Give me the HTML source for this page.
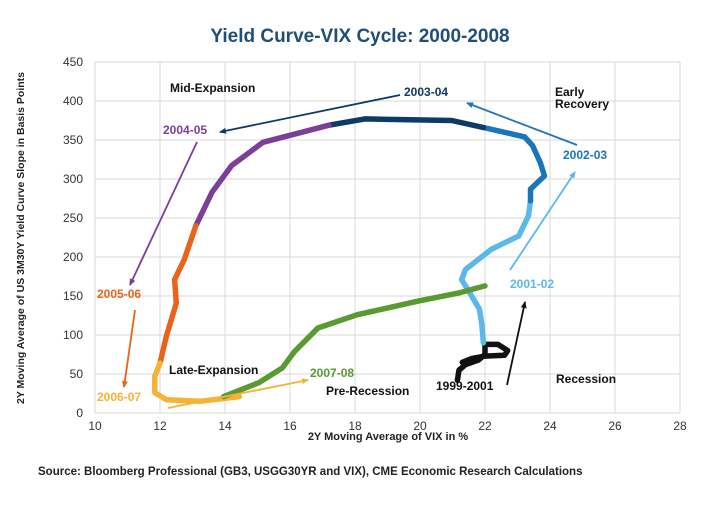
<!DOCTYPE html>
<html><head><meta charset="utf-8"><style>
body{margin:0;background:#fff;}
svg text{font-family:"Liberation Sans",sans-serif;}
</style></head><body>
<svg id="chart" width="720" height="500" viewBox="0 0 720 500">
<text x="360" y="42" text-anchor="middle" font-size="19" font-weight="bold" fill="#1f4e79">Yield Curve-VIX Cycle: 2000-2008</text>
<g id="grid"></g>
<g id="series"></g>
<g id="ann"></g>
<text x="0" y="0" transform="translate(24,238) rotate(-90)" text-anchor="middle" font-size="10.5" font-weight="bold" fill="#222">2Y Moving Average of US 3M30Y Yield Curve Slope in Basis Points</text>
<text x="388" y="440" text-anchor="middle" font-size="11" font-weight="bold" fill="#222">2Y Moving Average of VIX in %</text>
<text x="38" y="475" font-size="11.5" font-weight="bold" fill="#222">Source: Bloomberg Professional (GB3, USGG30YR and VIX), CME Economic Research Calculations</text>
</svg>
<script>
const xTicks=[10,12,14,16,18,20,22,24,26,28];
const yTicks=[0,50,100,150,200,250,300,350,400,450];
const segNames=['1999-2001','2001-02','2002-03','2003-04','2004-05','2005-06','2006-07','2007-08'];
const segColors=['#111','#5bb8ea','#1a75bb','#0d3a66','#7b3f99','#e8641b','#f5b335','#5a9a32'];
const vix1999=[21.15,21.2,21.4,21.8,22.0,22.0,22.4,22.7,22.6,22.0,21.6,21.3];
const slope1999=[42,55,62,68,75,88,88,80,74,73,70,65];
const vix2001=[21.95,21.9,21.83,21.46,21.28,21.4,22.2,23.04,23.34,23.4];
const slope2001=[90,115,133,159,171,184,210,227,253,272];
const vix2002=[23.4,23.4,23.83,23.7,23.46,23.22,21.95];
const slope2002=[272,287,304,321,343,354,366];
const vix2003=[21.95,20.98,18.3,17.2];
const slope2003=[366,375,377,369];
const vix2004=[17.2,15.17,14.2,13.6,13.1];
const slope2004=[369,347,317,283,240];
const vix2005=[13.1,12.75,12.45,12.5,12.2,12.0];
const slope2005=[240,197,171,141,99,64];
const vix2006=[12.0,11.84,11.84,12.2,13.23,14.44];
const slope2006=[64,47,26,17,15,21];
const vix2007=[13.96,15.05,15.77,16.14,16.86,18.07,20.0,21.2,22.0];
const slope2007=[21,39,58,79,109,126,144,154,163];

const X0=95,X1=680,Y0=413,Y1=62;
const sx=v=>X0+(v-10)/(28-10)*(X1-X0);
const sy=v=>Y0-(v-0)/(450-0)*(Y0-Y1);
const NS='http://www.w3.org/2000/svg';
function mk(tag,attrs,parent){const e=document.createElementNS(NS,tag);for(const k in attrs)e.setAttribute(k,attrs[k]);parent.appendChild(e);return e;}
const grid=document.getElementById('grid');
xTicks.forEach(t=>{
 const l=mk('line',{x1:sx(t),x2:sx(t),y1:Y1,y2:Y0,stroke:'#d9d9d9','stroke-width':1},grid);
 
 
 const tx=mk('text',{x:sx(t),y:Y0+17,'text-anchor':'middle','font-size':12,fill:'#333'},grid);
 tx.textContent=t;
 
 
});
yTicks.forEach(t=>{
 const l=mk('line',{x1:X0,x2:X1,y1:sy(t),y2:sy(t),stroke:'#d9d9d9','stroke-width':1},grid);
 
 
 const tx=mk('text',{x:X0-12,y:sy(t)+4,'text-anchor':'end','font-size':12,fill:'#333'},grid);
 tx.textContent=t;
 
 
});
const segs=[[vix1999,slope1999],[vix2001,slope2001],[vix2002,slope2002],[vix2003,slope2003],[vix2004,slope2004],[vix2005,slope2005],[vix2006,slope2006],[vix2007,slope2007]];
const sg=document.getElementById('series');
segs.forEach((s,i)=>{
 const d=s[0].map((v,j)=>(j?'L':'M')+sx(v).toFixed(1)+','+sy(s[1][j]).toFixed(1)).join('');
 const p=mk('path',{d:d,fill:'none',stroke:segColors[i],'stroke-width':5.5,'stroke-linejoin':'round','stroke-linecap':'round'},sg);
 
 
});
const ann=document.getElementById('ann');
const defs=mk('defs',{},ann);
const arrows=[[400,95,220,132,'#0d3a66'],[577,145,467,103,'#1a75bb'],[510,270,575,172,'#5bb8ea'],[507,385,525,302,'#111'],[197,142,130,285,'#7b3f99'],[135,310,124,387,'#e8641b'],[168,408,308,380,'#f5b335']];
arrows.forEach((a,i)=>{
 const m=mk('marker',{id:'m'+i,markerWidth:8,markerHeight:8,refX:6,refY:3,orient:'auto',markerUnits:'userSpaceOnUse'},defs);
 mk('path',{d:'M0,0L7,3L0,6Z',fill:a[4]},m);
 const l=mk('line',{x1:a[0],y1:a[1],x2:a[2],y2:a[3],stroke:a[4],'stroke-width':1.8,'marker-end':'url(#m'+i+')'},ann);
 
 
});
const labels=[['Mid-Expansion',170,92,'#111'],['2003-04',404,96,'#0d3a66'],['Early',555,96,'#111'],['Recovery',555,108,'#111'],['2004-05',163,134,'#7b3f99'],['2002-03',563,159,'#1a75bb'],['2001-02',510,288,'#5bb8ea'],['2005-06',97,298,'#e8641b'],['Late-Expansion',169,374,'#111'],['2007-08',310,377,'#5a9a32'],['Pre-Recession',326,395,'#111'],['1999-2001',436,390,'#111'],['Recession',556,383,'#111'],['2006-07',97,401,'#f5b335']];
labels.forEach(l=>{
 const t=mk('text',{x:l[1],y:l[2],'font-size':12,'font-weight':'bold',fill:l[3]},ann);
 t.textContent=l[0];
 
 
});
</script>
</body></html>
